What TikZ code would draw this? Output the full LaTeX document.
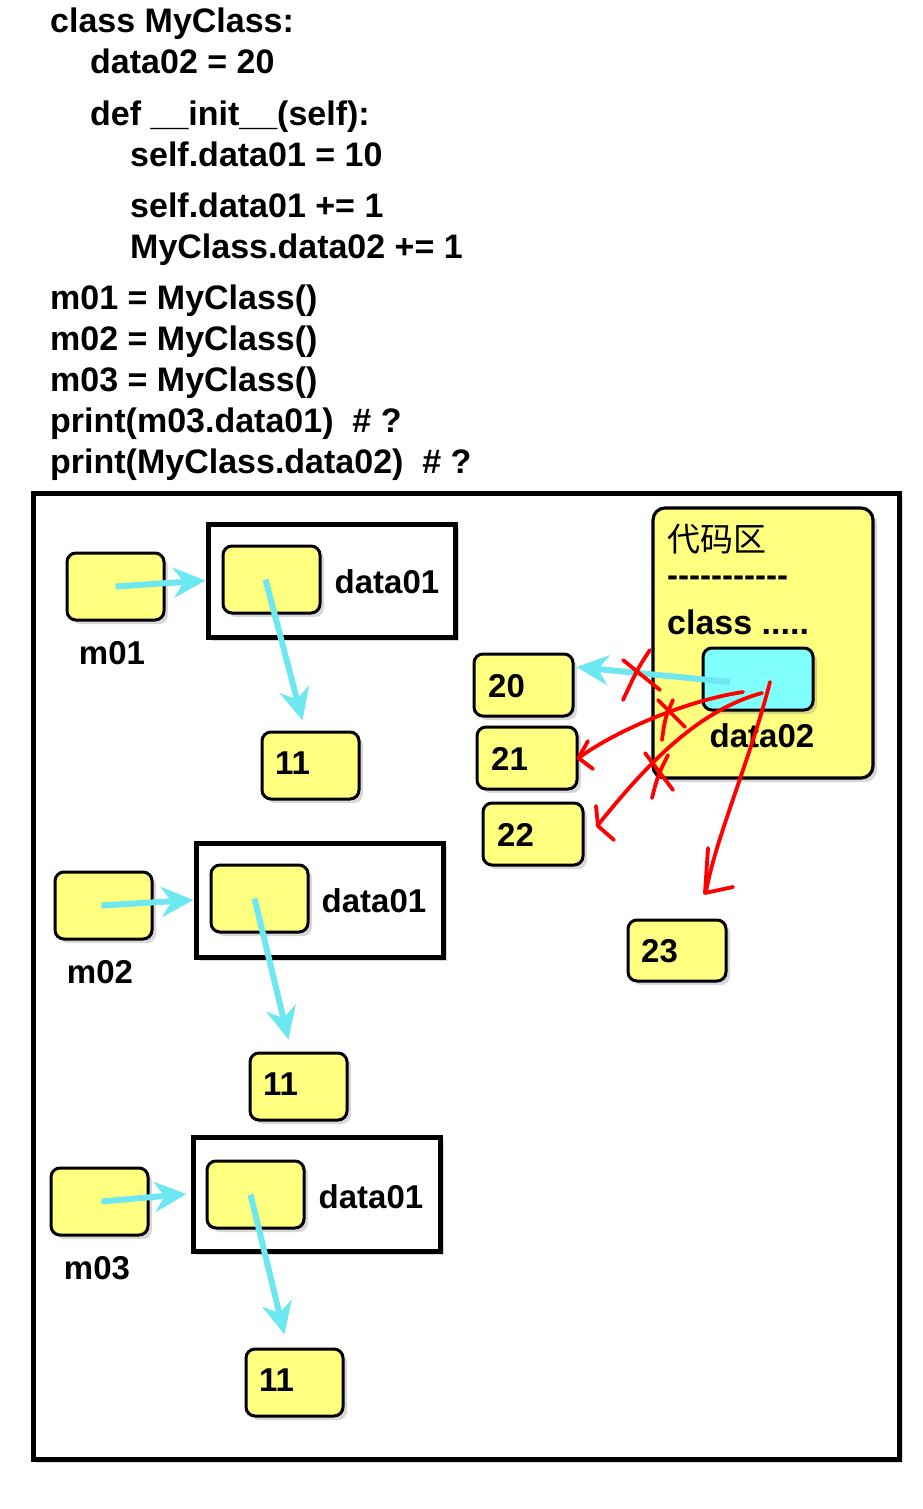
\documentclass[tikz,border=0pt]{standalone}
\usepackage{fontspec}
\setmainfont{Liberation Sans}
\newfontfamily\cjk{Noto Sans CJK SC}
\usetikzlibrary{arrows.meta,shadows}
\definecolor{ylw}{RGB}{255,255,128}
\definecolor{cyb}{RGB}{128,255,255}
\definecolor{cya}{RGB}{110,232,240}
\definecolor{rd}{RGB}{255,0,0}
\begin{document}
\begin{tikzpicture}[x=1pt,y=-1pt,
  code/.style={anchor=base west, font=\fontsize{34}{40}\selectfont\bfseries, inner sep=0pt},
  lbl/.style={font=\fontsize{33}{40}\selectfont\bfseries, inner sep=0pt},
  shd/.style={drop shadow={opacity=0.3,shadow xshift=4pt,shadow yshift=-4pt}},
  ybox/.style={draw, fill=ylw, rounded corners=9pt, line width=3pt, shd},
  frm/.style={draw, fill=white, line width=5pt, shd},
  carrow/.style={draw=cya, line width=6pt, -{Stealth[length=32pt,width=30pt,inset=10pt]}},
  rline/.style={draw=rd, line width=3.8pt, line cap=round, line join=round}]
\useasboundingbox (0,0) rectangle (922,1509);
% code text
\node[code] (c1) at (50,33) {class MyClass:};
\node[code] (c2) at (90,74) {data02 = 20};
\node[code] (c3) at (90,125) {def \_\_init\_\_(self):};
\node[code] (c4) at (130,166) {self.data01 = 10};
\node[code] (c5) at (130,217) {self.data01 += 1};
\node[code] (c6) at (130,258) {MyClass.data02 += 1};
\node[code] (c7) at (50,309) {m01 = MyClass()};
\node[code] (c8) at (50,350) {m02 = MyClass()};
\node[code] (c9) at (50,391) {m03 = MyClass()};
\node[code] (c10) at (50,432) {print(m03.data01)\ \ \# ?};
\node[code] (c11) at (50,473) {print(MyClass.data02)\ \ \# ?};
% outer frame
\node[frm, minimum width=866pt, minimum height=966pt] (outer) at (466,976) {};
% instance frames
\node[frm, minimum width=247pt, minimum height=113pt] (f1) at (331.5,580.5) {};
\node[frm, minimum width=247pt, minimum height=114pt] (f2) at (319.5,900) {};
\node[frm, minimum width=247pt, minimum height=114pt] (f3) at (316.5,1194) {};
% yellow boxes
\node[ybox, minimum width=97pt, minimum height=67pt] (m01) at (115.5,586.5) {};
\node[ybox, minimum width=97pt, minimum height=67pt] (i1) at (271.5,579.5) {};
\node[ybox, minimum width=97pt, minimum height=67pt] (n1) at (310.5,765.5) {};
\node[ybox, minimum width=97pt, minimum height=67pt] (m02) at (103.5,905.5) {};
\node[ybox, minimum width=97pt, minimum height=67pt] (i2) at (259.5,898.5) {};
\node[ybox, minimum width=97pt, minimum height=67pt] (n2) at (298.5,1086.5) {};
\node[ybox, minimum width=97pt, minimum height=67pt] (m03) at (99.5,1201.5) {};
\node[ybox, minimum width=97pt, minimum height=67pt] (i3) at (255.5,1194.5) {};
\node[ybox, minimum width=97pt, minimum height=67pt] (n3) at (294.5,1382.5) {};
% labels
\node[lbl] (lm01) at (112,653) {m01};
\node[lbl] (lm02) at (100,972) {m02};
\node[lbl] (lm03) at (97,1268) {m03};
\node[lbl] (d1) at (387,582) {data01};
\node[lbl] (d2) at (374,901) {data01};
\node[lbl] (d3) at (371,1197) {data01};
\node[lbl, anchor=west] (t1) at (275,763) {11};
\node[lbl, anchor=west] (t2) at (263,1084) {11};
\node[lbl, anchor=west] (t3) at (259,1380) {11};
% code region
\node[ybox, rounded corners=12pt, line width=3.2pt, minimum width=220pt, minimum height=270pt] (cr) at (763,643) {};
\node[anchor=west, inner sep=0pt, font=\cjk\fontsize{33}{40}\selectfont] (crt) at (667,539) {代码区};
\node[lbl, anchor=west] (dash) at (667,581) {{-}{-}{-}{-}{-}{-}{-}{-}{-}{-}{-}};
\node[lbl, anchor=west, font=\fontsize{34}{40}\selectfont\bfseries] (cls) at (667,622) {class .....};
\node[draw, fill=cyb, rounded corners=9pt, line width=3pt, shd, minimum width=110pt, minimum height=62pt] (cb) at (758,679) {};
\node[lbl] (d02) at (762,736) {data02};
% value boxes
\node[ybox, minimum width=99pt, minimum height=62pt] (b20) at (523.5,685) {};
\node[ybox, minimum width=100pt, minimum height=62pt] (b21) at (527,758) {};
\node[ybox, minimum width=100pt, minimum height=62pt] (b22) at (533,834) {};
\node[ybox, minimum width=98pt, minimum height=61pt] (b23) at (677,950.5) {};
\node[lbl, anchor=west] (t20) at (488,686) {20};
\node[lbl, anchor=west] (t21) at (491,759) {21};
\node[lbl, anchor=west] (t22) at (497,835) {22};
\node[lbl, anchor=west] (t23) at (641,951) {23};
% cyan arrows
\draw[carrow] (m01.center) -- (f1.west);
\draw[carrow] ([xshift=-6pt]i1.center) -- ([xshift=-8pt,yshift=10pt]n1.north);
\draw[carrow] ([xshift=-2pt]m02.center) -- (f2.west);
\draw[carrow] ([xshift=-5pt]i2.center) -- ([xshift=-10pt,yshift=12pt]n2.north);
\draw[carrow] ([xshift=2pt]m03.center) -- ([xshift=-4pt]f3.west);
\draw[carrow] ([xshift=-5pt]i3.center) -- ([xshift=-10pt,yshift=13pt]n3.north);
\draw[carrow] ([xshift=-28pt,yshift=-3pt]cb.center) -- ([xshift=2pt,yshift=18pt]b20.east);
% red hand-drawn arrows
\draw[rline] (743,692) .. controls (690,700) and (620,728) .. (b21.east);
\draw[rline] (588,741) -- (b21.east) -- (593,769);
\draw[rline] (762,693) .. controls (700,710) and (650,760) .. (598,825);
\draw[rline] (596,806) -- (598,826) -- (614,840);
\draw[rline] (770,682) .. controls (750,760) and (715,840) .. (706,892);
\draw[rline] (708,848) -- (705,893) -- (733,887);
% red crosses
\draw[rline] (623,660) -- (660,690);
\draw[rline] (650,650) .. controls (638,668) .. (623,700);
\draw[rline] (658,700) -- (685,727);
\draw[rline] (673,700) .. controls (665,718) .. (662,740);
\draw[rline] (645,753) -- (673,790);
\draw[rline] (668,755) .. controls (658,775) .. (652,798);
\end{tikzpicture}
\end{document}
